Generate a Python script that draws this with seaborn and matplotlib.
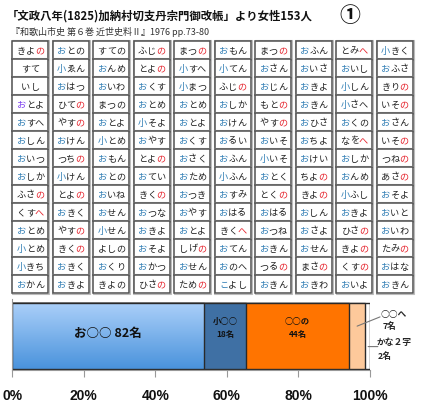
import matplotlib
matplotlib.use("Agg")
import matplotlib.pyplot as plt
from matplotlib.patches import Rectangle
from matplotlib.colors import LinearSegmentedColormap
import numpy as np
import seaborn as sns

# 名前の一覧（列ごと）。末尾の * は「の」「へ」を赤で表示する印
col_names = [
    ["きよの*", "すて", "いし", "おとよ", "おすへ", "おしん", "おいつ", "おしか", "ふさの*", "くすへ*", "おとめ", "小とめ", "小きち", "おかん"],
    ["おとの", "小ゑん", "おはつ", "ひての*", "やすの*", "おけん", "つちの*", "小けん", "とよの*", "おきく", "やすの*", "きくの*", "おきく", "おきよ"],
    ["すての", "おんめ", "おいわ", "まつの", "おとよ", "小とめ", "おもん", "おとの", "おいね", "おせん", "小せん", "よしの", "おくり", "きよの"],
    ["ふじの*", "とよの*", "おくす", "おとめ", "小そよ", "おやす", "とよの*", "おてい", "きくの*", "おつな", "おきよ", "おそよ", "おかつ", "ひさの*"],
    ["まつの*", "小すへ", "小まつ", "おとめ", "おとよ", "おくす", "おさく", "おため", "おつき", "おやす", "おとよ", "しげの*", "おせん", "ための*"],
    ["おもん", "小てん", "ふじの*", "おしか", "おけん", "おるい", "おふん", "小ふん", "おすみ", "おはる", "きくへ*", "おてん", "おのへ", "こよし"],
    ["まつの*", "おさん", "おじん", "もとの*", "やすの*", "おいそ", "小いそ", "おとく", "とくの*", "おはる", "おつね", "おきん", "つるの*", "おきん"],
    ["おふん", "おいさ", "おきよ", "おきん", "おひさ", "おちよ", "おけい", "ちよの*", "きよの*", "おしん", "おさよ", "おせん", "まさの*", "おきわ"],
    ["とみへ*", "おいし", "小しん", "小さへ", "おくの", "なをへ*", "おしか", "おんめ", "小ふし", "おきよ", "ひさの*", "きよの*", "くすの*", "おいよ"],
    ["小きく", "おふさ", "きりの*", "いその*", "おさん", "いその*", "つねの*", "あさの*", "おそよ", "おいと", "おいわ", "たみの*", "おはな", "おきん"],
]

# 内訳（人数）
groups = ["お○○", "小○○", "○○の", "○○へ", "かな２字"]
counts = [82, 18, 44, 7, 2]
tick_vals = [0, 20, 40, 60, 80, 100]

title = "「文政八年(1825)加納村切支丹宗門御改帳」より女性153人"
source = "『和歌山市史 第６巻 近世史料Ⅱ』1976 pp.73-80"

W, H = 423, 406
sns.set_theme(style="white")
plt.rcParams["font.family"] = ["Noto Sans CJK JP", "DejaVu Sans"]

fig = plt.figure(figsize=(W / 100, H / 100), dpi=100)
fig.patch.set_facecolor("white")

# 上部：名前の表（ピクセル座標）
ax = fig.add_axes([0, 0, 1, 1])
ax.set_xlim(0, W)
ax.set_ylim(H, 0)
ax.axis("off")

ax.text(7, 16, title, fontsize=8.2, fontweight="bold", va="center", ha="left", color="#111")
ax.text(350, 16, "①", fontsize=15, fontweight="bold", va="center", ha="center", color="#111")
ax.text(11, 32, source, fontsize=6.5, va="center", ha="left", color="#333")

blue = "#2f7db4"
red = "#e5202a"
purple = "#7a3cf0"
fs = 6.6
em = fs * 100 / 72

for c, names in enumerate(col_names):
    x0 = 12.3 + c * 40.5
    for r, nm in enumerate(names):
        y0 = 41.7 + r * 18
        ax.add_patch(Rectangle((x0 - 0.8, y0 - 0.8), 37.6, 19.6, fill=False,
                               edgecolor="#bbbbbb", lw=0.8))
        ax.add_patch(Rectangle((x0, y0), 36, 18, facecolor="white",
                               edgecolor="#505050", lw=1.1))
        mark = nm.endswith("*")
        s = nm.rstrip("*")
        n = len(s)
        cx, cy = x0 + 18, y0 + 9.5
        for i, ch in enumerate(s):
            color = "#222"
            if i == 0 and ch in "お小こ":
                color = purple if (c == 0 and r == 3) else blue
            if i == n - 1 and mark:
                color = red
            ax.text(cx + (i - (n - 1) / 2) * em, cy, ch, fontsize=fs,
                    ha="center", va="center", color=color)

# 下部：積み上げ帯グラフ
total = sum(counts)
pct = np.array(counts) / total * 100
cum = np.cumsum(pct)
colors = ["#7fb2ea", "#3f70a4", "#ff7400", "#fdc99b", "#ffffff"]

bax = fig.add_axes([12.3 / W, (H - 371) / H, (370 - 12.3) / W, 71 / H])
for k in range(len(groups) - 1, -1, -1):
    sns.barplot(x=[cum[k]], y=["all"], orient="h", color=colors[k], saturation=1,
                edgecolor="#2a2a2a", linewidth=1.0, width=1.0, ax=bax)

# お○○ のグラデーション
p0 = bax.patches[-1]
bb = p0.get_bbox()
cmap = LinearSegmentedColormap.from_list("g", ["#aacff9", "#4a93dc"])
grad = np.linspace(0, 1, 64).reshape(-1, 1)
im = bax.imshow(grad, extent=[bb.x0, bb.x1, bb.y1, bb.y0], aspect="auto", cmap=cmap,
                zorder=1.5, origin="upper")
im.set_clip_path(p0)
p0.set_facecolor("none")
p0.set_zorder(2)

bax.set_xlim(0, 100)
bax.set_ylim(0.515, -0.5615)
bax.set_xticks(tick_vals)
bax.set_xticklabels([f"{v}%" for v in tick_vals], fontfamily="Liberation Sans",
                    fontweight="bold", fontsize=10, color="#111")
bax.set_yticks([])
bax.set_xlabel("")
bax.set_ylabel("")
bax.tick_params(axis="x", direction="out", length=5, width=0.8, color="#999", pad=8)
bax.xaxis.set_ticks_position("bottom")
for side in ["top", "right"]:
    bax.spines[side].set_visible(False)
for side in ["left", "bottom"]:
    bax.spines[side].set_color("#999")
    bax.spines[side].set_linewidth(0.8)
bax.set_facecolor("none")

mid = cum - pct / 2
bax.text(mid[0], -0.05, f"{groups[0]} {counts[0]}名", fontsize=9, fontweight="bold",
         ha="center", va="center", color="#111")
for k in (1, 2):
    bax.text(mid[k], -0.23, groups[k], fontsize=6, fontweight="bold",
             ha="center", va="center", color="#111")
    bax.text(mid[k], -0.04, f"{counts[k]}名", fontsize=6, fontweight="bold",
             ha="center", va="center", color="#111")

# 欄外の注記
bax.annotate("", xy=(96.4, -0.15), xytext=(102.8, -0.29), annotation_clip=False,
             arrowprops=dict(arrowstyle="-", color="#777", lw=0.8,
                             shrinkA=0, shrinkB=0))
fig.text(381 / W, 1 - 314 / H, groups[3], fontsize=6.3, fontweight="bold", ha="left", va="center")
fig.text(383 / W, 1 - 327 / H, f"{counts[3]}名", fontsize=6.3, fontweight="bold", ha="left", va="center")
bax.annotate("", xy=(cum[3] + pct[4] * 0.6, 0.16), xytext=(102.2, 0.16), annotation_clip=False,
             arrowprops=dict(arrowstyle="-", color="#777", lw=0.8,
                             shrinkA=0, shrinkB=0))
fig.text(377 / W, 1 - 343 / H, groups[4], fontsize=6.3, fontweight="bold", ha="left", va="center")
fig.text(378 / W, 1 - 357 / H, f"{counts[4]}名", fontsize=6.3, fontweight="bold", ha="left", va="center")

fig.savefig("out.png", dpi=100)
